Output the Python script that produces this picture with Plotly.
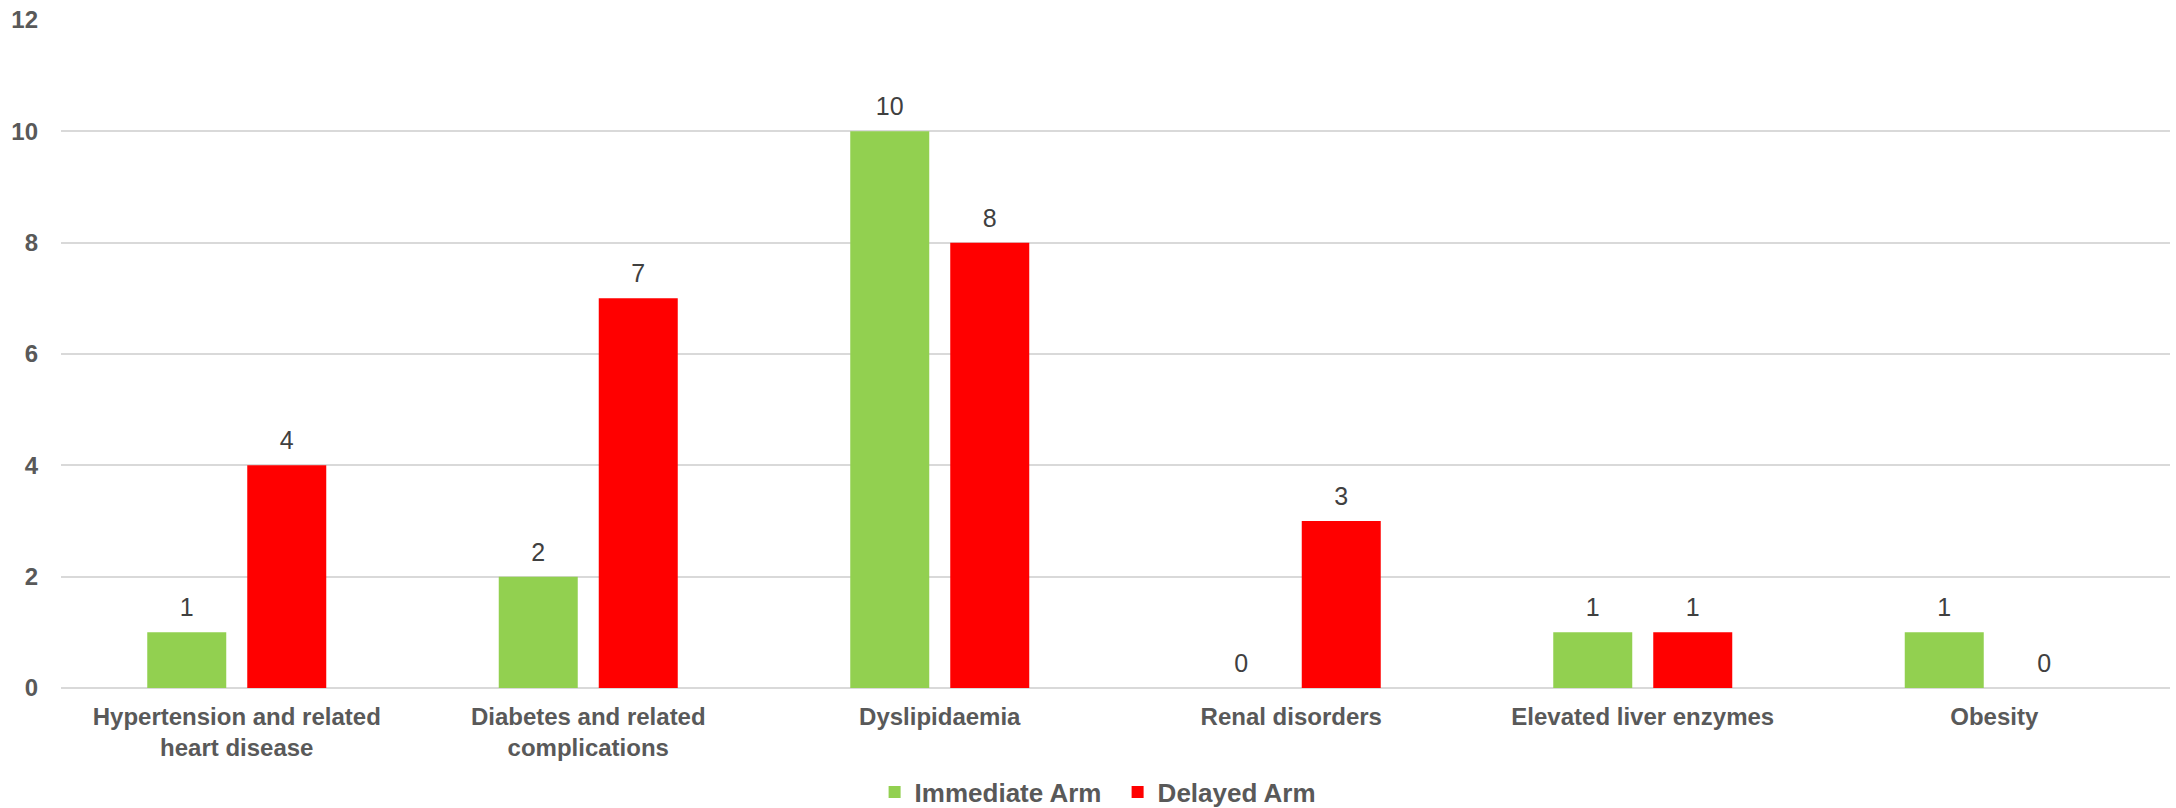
import plotly.graph_objects as go

categories = [
    "Hypertension and related<br>heart disease",
    "Diabetes and related<br>complications",
    "Dyslipidaemia",
    "Renal disorders",
    "Elevated liver enzymes",
    "Obesity",
]
immediate_arm = [1, 2, 10, 0, 1, 1]
delayed_arm = [4, 7, 8, 3, 1, 0]
y_ticks = [0, 2, 4, 6, 8, 10, 12]

FONT = "Liberation Sans, Arial, sans-serif"
LABEL_GREY = "#595959"
VALUE_GREY = "#404040"

series = [
    ("Immediate Arm", immediate_arm, "#92D050"),
    ("Delayed Arm", delayed_arm, "#FF0000"),
]

fig = go.Figure()
for name, values, color in series:
    fig.add_trace(go.Bar(
        name=name, x=categories, y=values,
        marker=dict(color=color, line=dict(width=0)),
    ))
# value labels: invisible markers grouped like the bars, text sits above them
for name, values, color in series:
    fig.add_trace(go.Scatter(
        x=categories, y=values, mode="markers+text",
        text=[str(v) for v in values], textposition="top center",
        textfont=dict(family=FONT, size=25, color=VALUE_GREY),
        marker=dict(size=14, color="rgba(0,0,0,0)"),
        showlegend=False, hoverinfo="skip", cliponaxis=False,
    ))

fig.update_layout(
    width=2176, height=808,
    margin=dict(l=61, r=6, t=20, b=120, autoexpand=False),
    paper_bgcolor="white", plot_bgcolor="white",
    barmode="group", bargap=0.431, bargroupgap=0.21,
    scattermode="group", scattergap=0.431,
    font=dict(family=FONT, color=LABEL_GREY),
    showlegend=True,
    legend=dict(
        orientation="h", xref="paper", yref="paper",
        x=0.501, xanchor="center", y=-0.156, yanchor="middle",
        font=dict(family=FONT, size=26, color=LABEL_GREY, weight="bold"),
        itemwidth=30, tracegroupgap=0,
        entrywidth=198, entrywidthmode="pixels",
    ),
)
fig.update_xaxes(
    showgrid=False, showline=False, ticks="", ticklabelstandoff=12,
    tickfont=dict(family=FONT, size=24, color=LABEL_GREY, weight="bold"),
)
fig.update_yaxes(
    range=[0, 12], tickvals=y_ticks, showgrid=True, gridcolor="#D9D9D9", gridwidth=2,
    zeroline=True, zerolinecolor="#D9D9D9", zerolinewidth=2, showline=False,
    ticks="", ticklabelstandoff=22,
    tickfont=dict(family=FONT, size=24, color=LABEL_GREY, weight="bold"),
)

fig.write_html("out.html")
